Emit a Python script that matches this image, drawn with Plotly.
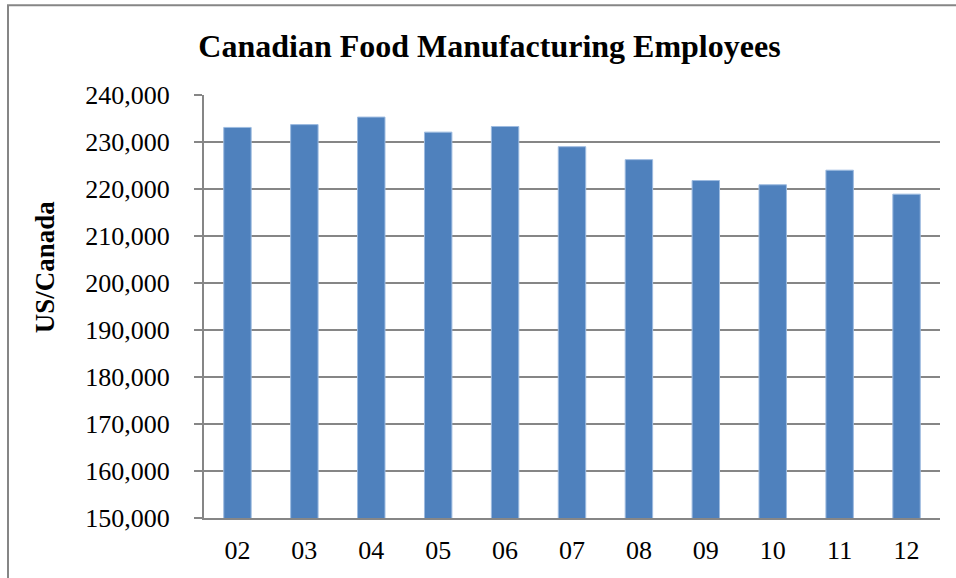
import plotly.graph_objects as go

# Annual employee counts (two-digit year labels)
years = ["02", "03", "04", "05", "06", "07", "08", "09", "10", "11", "12"]
employees = [233100, 233700, 235300, 232100, 233300, 229000, 226250, 221800, 220900, 224000, 218900]

y_ticks = list(range(150000, 240001, 10000))
y_tick_text = [f"{v:,}" for v in y_ticks]

serif = "Liberation Serif, Times New Roman, serif"
grey = "#868686"

fig = go.Figure(
    go.Bar(
        x=years,
        y=employees,
        marker=dict(color="#4F81BD", line=dict(color="#9dbbe0", width=1)),
        width=0.41,
    )
)

fig.update_layout(
    width=956,
    height=578,
    margin=dict(l=204, r=16, t=95, b=60),
    paper_bgcolor="white",
    plot_bgcolor="white",
    showlegend=False,
    font=dict(family=serif, color="black", size=26),
    title=dict(
        text="<b>Canadian Food Manufacturing Employees</b>",
        font=dict(family=serif, size=32, color="black"),
        x=0.512,
        xanchor="center",
        y=0.92,
        yanchor="middle",
    ),
    xaxis=dict(
        showline=True,
        linecolor=grey,
        linewidth=2,
        ticks="",
        showgrid=False,
        tickfont=dict(size=26),
        ticklabelstandoff=8,
    ),
    yaxis=dict(
        range=[150000, 240000],
        tickvals=y_ticks,
        ticktext=y_tick_text,
        showline=True,
        linecolor=grey,
        linewidth=2,
        ticks="outside",
        ticklen=8,
        tickwidth=2,
        tickcolor=grey,
        showgrid=True,
        gridcolor=grey,
        gridwidth=2,
        tickfont=dict(size=26),
        ticklabelstandoff=19,
    ),
    annotations=[
        dict(
            text="<b>US/Canada</b>",
            textangle=-90,
            xref="paper",
            yref="paper",
            x=(45 - 204) / 736,
            y=(517.7 - 267) / 423,
            xanchor="center",
            yanchor="middle",
            showarrow=False,
            font=dict(family=serif, size=27, color="black"),
        )
    ],
    shapes=[
        dict(
            type="rect",
            xref="paper",
            yref="paper",
            x0=(8 - 204) / 736,
            x1=(970 - 204) / 736,
            y0=(517.7 - 600) / 423,
            y1=(517.7 - 5) / 423,
            line=dict(color=grey, width=2),
            layer="below",
        )
    ],
)

fig.write_html("out.html")
